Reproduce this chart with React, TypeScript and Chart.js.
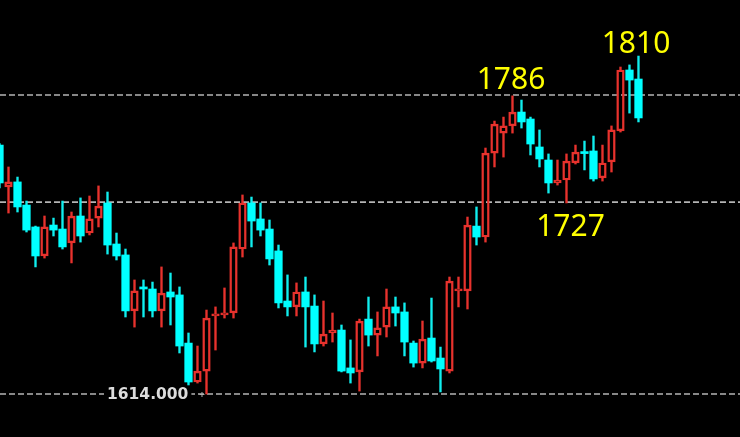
import { useEffect, useRef } from "react";
import { Chart, registerables } from "chart.js";

Chart.register(...registerables);

// Candle data (price units), one entry per bar, oldest first
const opens = [
  1757.2, 1733.1, 1736.0, 1722.7, 1710.1, 1693.4, 1711.2, 1708.9, 1700.9, 1716.4,
  1706.6, 1715.2, 1723.9, 1700.3, 1694.0, 1661.8, 1675.6, 1674.4, 1661.8, 1672.7,
  1671.0, 1643.3, 1620.9, 1627.2, 1658.9, 1659.5, 1660.6, 1697.4, 1723.9, 1714.7,
  1708.9, 1696.3, 1667.5, 1664.1, 1672.7, 1664.6, 1642.8, 1649.1, 1650.8, 1629.0,
  1626.7, 1657.1, 1647.9, 1652.5, 1664.1, 1661.2, 1643.3, 1631.8, 1646.2, 1634.7,
  1627.2, 1673.3, 1673.3, 1710.6, 1704.3, 1752.6, 1764.1, 1768.2, 1776.2, 1772.2,
  1756.1, 1748.6, 1735.4, 1737.1, 1746.9, 1752.9, 1753.8, 1738.3, 1747.5, 1765.3,
  1800.4, 1795.2,
];
const highs = [
  1758.0, 1744.6, 1738.8, 1725.0, 1710.6, 1716.4, 1715.2, 1725.0, 1718.7, 1726.8,
  1727.9, 1733.7, 1730.2, 1706.6, 1697.4, 1679.6, 1679.6, 1678.4, 1687.1, 1683.6,
  1675.6, 1649.1, 1641.6, 1662.3, 1664.1, 1675.0, 1700.9, 1728.5, 1727.3, 1723.9,
  1714.1, 1699.7, 1682.5, 1677.9, 1681.3, 1671.0, 1667.5, 1660.6, 1653.7, 1645.1,
  1657.1, 1669.8, 1661.2, 1674.4, 1669.8, 1666.4, 1644.5, 1656.0, 1669.2, 1641.0,
  1681.3, 1681.3, 1715.8, 1721.6, 1755.5, 1771.0, 1773.3, 1785.5, 1783.1, 1773.3,
  1765.9, 1752.1, 1748.6, 1752.1, 1757.2, 1759.5, 1762.4, 1757.2, 1768.2, 1802.1,
  1803.3, 1808.4,
];
const lows = [
  1732.5, 1718.1, 1718.7, 1707.2, 1687.1, 1692.2, 1704.9, 1697.4, 1689.4, 1701.4,
  1705.5, 1710.1, 1694.5, 1691.1, 1658.3, 1652.5, 1658.3, 1658.3, 1652.5, 1653.7,
  1637.6, 1619.2, 1620.3, 1614.0, 1639.3, 1657.7, 1657.7, 1692.8, 1698.6, 1704.9,
  1688.2, 1663.5, 1658.9, 1658.9, 1641.0, 1638.2, 1641.6, 1643.9, 1626.7, 1620.3,
  1615.7, 1641.6, 1635.9, 1646.8, 1653.1, 1635.9, 1629.5, 1629.0, 1632.4, 1615.2,
  1626.1, 1664.1, 1662.9, 1699.7, 1701.4, 1744.6, 1750.3, 1764.1, 1767.0, 1751.5,
  1744.6, 1729.6, 1734.2, 1723.9, 1746.3, 1742.9, 1736.5, 1736.5, 1741.7, 1764.7,
  1775.6, 1770.5,
];
const closes = [
  1735.4, 1736.0, 1721.6, 1708.3, 1693.4, 1710.1, 1708.3, 1698.6, 1716.4, 1704.9,
  1714.7, 1722.1, 1699.7, 1693.4, 1661.8, 1673.3, 1674.4, 1661.8, 1672.1, 1669.8,
  1641.6, 1620.9, 1627.2, 1657.7, 1660.0, 1660.6, 1698.6, 1723.9, 1713.5, 1708.3,
  1691.7, 1666.4, 1664.1, 1672.7, 1664.1, 1642.8, 1648.5, 1650.8, 1627.2, 1626.1,
  1656.0, 1647.9, 1652.0, 1664.1, 1660.6, 1643.9, 1631.8, 1645.6, 1633.0, 1628.4,
  1679.0, 1674.4, 1711.2, 1704.3, 1752.6, 1769.3, 1768.2, 1776.2, 1770.5, 1757.8,
  1749.2, 1735.4, 1737.1, 1748.0, 1753.2, 1752.3, 1737.7, 1746.9, 1765.9, 1800.4,
  1794.6, 1772.8,
];

// Horizontal dashed levels
const levelValues = [1786, 1724.4, 1614];

// Annotations
const annoTexts = ["1786", "1810", "1727"];
const annoIndex = [57, 71, 63];
const annoAnchor = ["high", "high", "low"];
const priceLabel = "1614.000";
const priceLabelValue = 1614;

// View window
const xMin = 0.0556;
const xMax = 82.28;
const yMin = 1589.27;
const yMax = 1840.65;

const UP = "#e8322d";
const DOWN = "#00ffff";
const DOWN_WICK = "#10eeee";

export default function App() {
  const ref = useRef<HTMLCanvasElement | null>(null);

  useEffect(() => {
    document.body.style.margin = "0";
    document.body.style.background = "#000";
    document.body.style.overflow = "hidden";
    const canvas = ref.current;
    if (!canvas) return;

    const idx = opens.map((_, i) => i);
    const isUp = idx.map((i) => closes[i] > opens[i]);
    const colorOf = (i: number) => (isUp[i] ? UP : DOWN);
    const wickColorOf = (i: number) => (isUp[i] ? UP : DOWN_WICK);

    const annoPlugin = {
      id: "annos",
      afterDatasetsDraw(chart: any) {
        const { ctx } = chart;
        const xs = chart.scales.x;
        const ys = chart.scales.y;
        const dx = [-1.5, -2.5, 4];
        const dy = [-7, -3, 33];
        ctx.save();
        ctx.font = "30px 'Noto Sans'";
        ctx.fillStyle = "#ffff00";
        ctx.textAlign = "center";
        ctx.textBaseline = "alphabetic";
        annoTexts.forEach((t, k) => {
          const i = annoIndex[k];
          const v = annoAnchor[k] === "high" ? highs[i] : lows[i];
          ctx.fillText(t, xs.getPixelForValue(i) + dx[k], ys.getPixelForValue(v) + dy[k]);
        });
        // price label on the bottom level
        const py = ys.getPixelForValue(priceLabelValue);
        ctx.font = "bold 15.5px 'DejaVu Sans'";
        const w = ctx.measureText(priceLabel).width;
        const lx = 107;
        ctx.fillStyle = "#000";
        ctx.fillRect(lx - 3, py - 8, w + 6, 16);
        ctx.fillStyle = "#dcdcdc";
        ctx.textAlign = "left";
        ctx.textBaseline = "middle";
        ctx.fillText(priceLabel, lx, py + 1);
        // small cross marker
        const cx = xs.getPixelForValue(23) - 5;
        ctx.strokeStyle = "#b0b0b0";
        ctx.lineWidth = 1;
        ctx.beginPath();
        ctx.moveTo(cx - 2, py + 0.5);
        ctx.lineTo(cx + 3, py + 0.5);
        ctx.moveTo(cx + 0.5, py - 2);
        ctx.lineTo(cx + 0.5, py + 3);
        ctx.stroke();
        ctx.restore();
      },
    };

    const lineSets = levelValues.map((v) => ({
      type: "line" as const,
      data: [
        { x: xMin, y: v },
        { x: xMax, y: v },
      ],
      borderColor: "#b4b4b4",
      borderWidth: 1.6,
      borderDash: [6, 3],
      pointRadius: 0,
      fill: false,
      order: 5,
    }));

    const chart = new Chart(canvas, {
      type: "bar",
      data: {
        datasets: [
          {
            type: "bar",
            data: idx.map((i) => ({ x: i, y: [opens[i], closes[i]] })) as any,
            backgroundColor: idx.map((i) => (isUp[i] ? "rgba(0,0,0,0)" : DOWN)),
            borderColor: idx.map((i) => colorOf(i)),
            borderWidth: idx.map((i) => (isUp[i] ? 1.8 : 0)),
            borderSkipped: false,
            barThickness: 7.6,
            minBarLength: 2,
            grouped: false,
            order: 0,
          },
          {
            type: "bar",
            data: idx.map((i) => ({ x: i, y: [Math.max(opens[i], closes[i]), highs[i]] })) as any,
            backgroundColor: idx.map((i) => wickColorOf(i)),
            borderWidth: 0,
            barThickness: 1.7,
            grouped: false,
            order: 1,
          },
          {
            type: "bar",
            data: idx.map((i) => ({ x: i, y: [lows[i], Math.min(opens[i], closes[i])] })) as any,
            backgroundColor: idx.map((i) => wickColorOf(i)),
            borderWidth: 0,
            barThickness: 1.7,
            grouped: false,
            order: 1,
          },
          ...(lineSets as any),
        ],
      },
      options: {
        animation: false,
        responsive: false,
        devicePixelRatio: 1,
        events: [],
        layout: { padding: 0 },
        plugins: {
          legend: { display: false },
          tooltip: { enabled: false },
        },
        scales: {
          x: {
            type: "linear",
            min: xMin,
            max: xMax,
            offset: false,
            display: false,
          },
          y: {
            type: "linear",
            min: yMin,
            max: yMax,
            display: false,
          },
        },
      },
      plugins: [annoPlugin],
    });

    return () => chart.destroy();
  }, []);

  return (
    <div style={{ width: 740, height: 437, background: "#000" }}>
      <canvas ref={ref} width={740} height={437} style={{ display: "block" }} />
    </div>
  );
}
